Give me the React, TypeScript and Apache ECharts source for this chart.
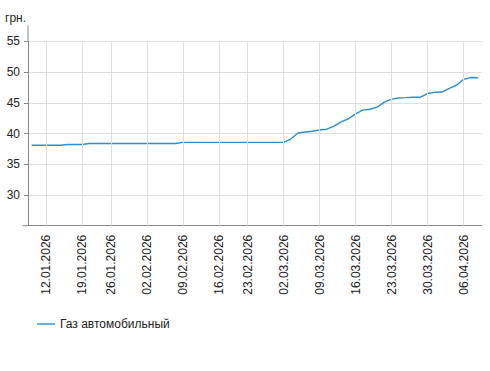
import React, { useEffect, useRef } from "react";
import * as echarts from "echarts";

const dates: string[] = [
  "08.01.2026", "09.01.2026",
  "12.01.2026", "13.01.2026", "14.01.2026", "15.01.2026", "16.01.2026",
  "19.01.2026", "20.01.2026", "21.01.2026", "22.01.2026",
  "26.01.2026", "27.01.2026", "28.01.2026", "29.01.2026", "30.01.2026",
  "02.02.2026", "03.02.2026", "04.02.2026", "05.02.2026", "06.02.2026",
  "09.02.2026", "10.02.2026", "11.02.2026", "12.02.2026", "13.02.2026",
  "16.02.2026", "17.02.2026", "18.02.2026", "19.02.2026",
  "23.02.2026", "24.02.2026", "25.02.2026", "26.02.2026", "27.02.2026",
  "02.03.2026", "03.03.2026", "04.03.2026", "05.03.2026", "06.03.2026",
  "09.03.2026", "10.03.2026", "11.03.2026", "12.03.2026", "13.03.2026",
  "16.03.2026", "17.03.2026", "18.03.2026", "19.03.2026", "20.03.2026",
  "23.03.2026", "24.03.2026", "25.03.2026", "26.03.2026", "27.03.2026",
  "30.03.2026", "31.03.2026", "01.04.2026", "02.04.2026", "03.04.2026",
  "06.04.2026", "07.04.2026", "08.04.2026",
];

const gasPrices: number[] = [
  38.08, 38.08,
  38.08, 38.08, 38.08, 38.2, 38.2,
  38.2, 38.38, 38.38, 38.38,
  38.38, 38.38, 38.38, 38.38, 38.38,
  38.38, 38.38, 38.38, 38.38, 38.38,
  38.56, 38.56, 38.56, 38.56, 38.56,
  38.56, 38.56, 38.56, 38.56,
  38.56, 38.56, 38.56, 38.56, 38.56,
  38.56, 39.1, 40.08, 40.25, 40.36,
  40.57, 40.7, 41.2, 41.9, 42.4,
  43.2, 43.8, 43.95, 44.3, 45.1,
  45.6, 45.78, 45.83, 45.9, 45.9,
  46.5, 46.7, 46.75, 47.35, 47.85,
  48.8, 49.1, 49.08,
];

const tickLabels: string[] = [
  "12.01.2026", "19.01.2026", "26.01.2026", "02.02.2026", "09.02.2026",
  "16.02.2026", "23.02.2026", "02.03.2026", "09.03.2026", "16.03.2026",
  "23.03.2026", "30.03.2026", "06.04.2026",
];

const seriesName = "Газ автомобильный";
const unitLabel = "грн.";

export default function App() {
  const ref = useRef<HTMLDivElement>(null);
  useEffect(() => {
    document.body.style.margin = "0";
    if (!ref.current) return;
    const chart = echarts.init(ref.current, undefined, { renderer: "svg" });
    const tickSet = new Set(tickLabels);
    const showTick = (idx: number, val: string) => tickSet.has(val);
    const font = "'Liberation Sans', Arial, sans-serif";
    const left = 28;
    const top = 41.3;
    const bottom = 145.3;
    const right = 8.4;
    const gridColor = "#dedede";
    chart.setOption({
      animation: false,
      textStyle: { fontFamily: font },
      grid: { left, top, right, bottom, containLabel: false },
      legend: {
        left: 32,
        top: 313,
        icon: "path://M0,0 L18,0 L18,1.4 L0,1.4 Z",
        itemWidth: 18,
        itemHeight: 1.4,
        itemGap: 10,
        textStyle: { fontSize: 12, color: "#222", fontFamily: font },
        data: [seriesName],
      },
      xAxis: {
        type: "category",
        data: dates,
        boundaryGap: true,
        axisLine: { lineStyle: { color: "#888", width: 1 } },
        axisTick: {
          interval: showTick,
          alignWithLabel: true,
          length: 3,
          lineStyle: { color: "#888" },
        },
        axisLabel: {
          interval: showTick,
          rotate: 90,
          fontSize: 12,
          color: "#222",
          margin: 9,
          fontFamily: font,
        },
        splitLine: { show: false },
      },
      yAxis: {
        type: "value",
        min: 25,
        max: 55,
        interval: 5,
        axisLine: { show: true, lineStyle: { color: "#888", width: 1 } },
        axisTick: { show: true, length: 4, lineStyle: { color: "#888" } },
        axisLabel: {
          showMinLabel: false,
          fontSize: 12,
          color: "#222",
          margin: 8,
          fontFamily: font,
        },
        splitLine: { show: true, lineStyle: { color: gridColor, width: 1 } },
      },
      graphic: [
        {
          type: "line",
          shape: { x1: left, y1: 25.5, x2: left, y2: top },
          style: { stroke: "#888", lineWidth: 1 },
        },
        {
          type: "line",
          shape: { x1: 22.7, y1: 371 - bottom, x2: left, y2: 371 - bottom },
          style: { stroke: "#888", lineWidth: 1 },
        },
        {
          type: "text",
          left: 5,
          top: 12,
          style: { text: unitLabel, fontSize: 12, fill: "#222", fontFamily: font },
        },
      ],
      series: [
        {
          name: "grid-v",
          type: "line",
          data: [],
          silent: true,
          z: 1,
          markLine: {
            silent: true,
            symbol: ["none", "none"],
            label: { show: false },
            lineStyle: { color: gridColor, width: 1, type: "solid" },
            emphasis: { disabled: true },
            data: tickLabels.map((d) => ({ xAxis: d })),
          },
        },
        {
          name: seriesName,
          type: "line",
          data: gasPrices,
          symbol: "none",
          z: 3,
          lineStyle: { color: "#2a8fd4", width: 1.4 },
          itemStyle: { color: "#2a8fd4" },
        },
      ],
    });
    return () => chart.dispose();
  }, []);
  return <div ref={ref} style={{ width: 490, height: 371 }} />;
}
